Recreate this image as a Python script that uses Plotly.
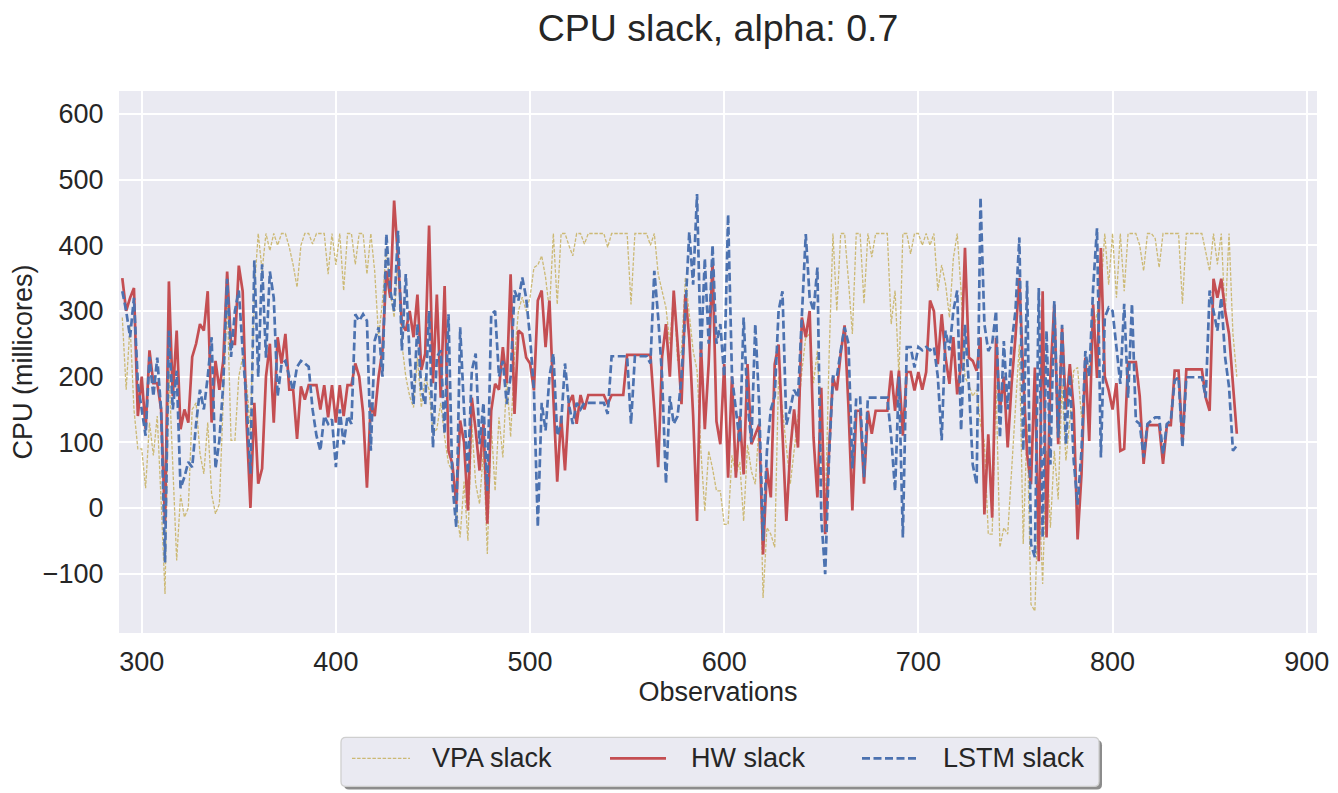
import plotly.graph_objects as go

# Observation index (x) – every second observation
obs = list(range(290, 866, 2))

vpa_slack = [
    290, 180, 280, 150, 90, 90, 30, 130, 80, 140,
    10, -131, 210, 77, -80, 20, -14, 0, 150, 160,
    83, 52, 130, 21, -9, 6, 168, 321, 103, 103,
    200, 230, 190, 118, 331, 418, 361, 418, 392, 418,
    400, 418, 418, 397, 370, 336, 400, 418, 418, 402,
    418, 418, 418, 356, 418, 370, 418, 331, 418, 418,
    371, 418, 418, 356, 418, 360, 260, 315, 397, 331,
    290, 381, 250, 200, 170, 153, 229, 153, 200, 180,
    113, 120, 160, 108, 67, 57, 0, -45, 40, -50,
    128, 37, 6, 90, -70, 128, 26, 138, 77, 200,
    108, 230, 300, 321, 300, 321, 366, 370, 384, 351,
    300, 418, 310, 418, 418, 400, 384, 418, 418, 402,
    418, 418, 418, 418, 418, 397, 418, 418, 418, 418,
    418, 310, 418, 418, 418, 418, 400, 418, 356, 330,
    305, 250, 330, 224, 239, 351, 290, 239, 210, 87,
    -5, 87, 60, 26, 26, -25, -25, 80, 50, 70,
    -20, 96, 56, 36, 130, -137, -30, -40, -60, 200,
    150, 87, 36, 87, 138, 209, 260, 265, 190, 240,
    90, -15, 229, 418, 300, 418, 418, 346, 265, 418,
    418, 311, 418, 382, 418, 418, 418, 418, 280, 331,
    199, 418, 418, 387, 418, 418, 400, 418, 400, 418,
    331, 370, 341, 290, 380, 418, 330, 199, 188, 170,
    180, 127, 100, -40, -40, 188, -60, -30, -40, 56,
    153, 249, -55, 127, -147, -157, 36, -116, 87, -30,
    87, 13, 188, 72, 133, 209, 214, 138, 188, 214,
    264, 300, 330, 418, 340, 418, 320, 418, 330, 418,
    418, 418, 400, 361, 418, 418, 410, 366, 418, 418,
    418, 418, 418, 311, 418, 418, 418, 418, 418, 390,
    361, 418, 371, 418, 290, 418, 265, 200,
]

hw_slack = [
    350, 300, 320, 335, 140, 200, 120, 240, 190, 190,
    150, -25, 345, 170, 270, 120, 150, 130, 230, 250,
    280, 270, 330, 130, 224, 180, 224, 360, 250, 250,
    369, 330, 130, 0, 160, 37, 60, 200, 250, 130,
    260, 220, 265, 180, 180, 105, 185, 165, 187, 187,
    187, 150, 187, 138, 187, 130, 187, 140, 187, 187,
    220, 200, 145, 31, 160, 140, 200, 240, 361, 320,
    468, 380, 280, 270, 300, 260, 325, 210, 235, 430,
    190, 325, 168, 338, 87, 67, 6, 133, 100, -4,
    168, 118, 57, 128, -24, 148, 189, 180, 245, 190,
    356, 143, 270, 265, 229, 220, 179, 316, 331, 245,
    316, 168, 40, 140, 57, 160, 172, 128, 172, 150,
    172, 172, 172, 172, 172, 158, 172, 172, 172, 172,
    233, 233, 233, 233, 233, 233, 233, 150, 62, 230,
    280, 200, 331, 250, 158, 325, 259, 140, -20, 250,
    120, 220, 376, 132, 97, 219, 46, 200, 46, 140,
    51, 219, 97, 112, 127, -71, 61, 16, 219, 249,
    120, -20, 87, 150, 92, 290, 260, 300, 107, 16,
    183, -40, 87, 199, 179, 235, 278, 153, -4, 148,
    148, 37, 148, 113, 148, 148, 148, 148, 209, 148,
    209, 110, 207, 207, 179, 207, 180, 207, 316, 300,
    219, 295, 229, 189, 260, 173, 219, 396, 229, 224,
    209, 260, -10, 112, -15, 259, 150, 200, 92, 188,
    260, 350, 200, 82, 36, 214, -81, 330, -45, 200,
    310, 97, 274, 150, 219, 150, -48, 51, 229, 102,
    310, 198, 396, 200, 179, 150, 190, 87, 90, 222,
    222, 222, 170, 67, 126, 126, 126, 126, 67, 126,
    126, 209, 209, 97, 211, 211, 211, 211, 211, 168,
    148, 349, 320, 349, 300, 265, 189, 113,
]

lstm_slack = [
    330, 300, 260, 320, 190, 150, 110, 230, 170, 229,
    148, -83, 270, 150, 209, 30, 47, 70, 62, 128,
    180, 150, 200, 260, 60, 103, 189, 349, 230, 300,
    331, 240, 160, 52, 377, 200, 371, 229, 360, 320,
    170, 219, 224, 200, 179, 215, 224, 220, 215, 150,
    110, 87, 140, 128, 135, 62, 150, 97, 140, 128,
    295, 285, 295, 285, 87, 255, 275, 200, 417, 331,
    300, 422, 240, 356, 230, 158, 280, 180, 158, 300,
    92, 230, 240, 113, 295, 37, -29, 275, 150, 52,
    209, 235, 97, 160, 26, 295, 300, 200, 224, 158,
    200, 331, 316, 351, 320, 260, 179, -29, 160, 118,
    200, 235, 110, 128, 220, 158, 128, 160, 150, 160,
    160, 160, 160, 160, 160, 143, 231, 231, 231, 231,
    231, 128, 231, 231, 231, 231, 220, 361, 290, 200,
    37, 170, 128, 140, 200, 300, 420, 340, 478, 230,
    380, 250, 400, 250, 280, 200, 447, 200, 150, 100,
    290, 160, 100, 280, 158, -50, 87, 150, 170, 300,
    330, 127, 150, 180, 168, 300, 417, 320, 300, 366,
    -15, -101, 77, 200, 199, 240, 275, 250, 60, 168,
    168, 47, 168, 168, 168, 168, 168, 168, 108, 26,
    200, -45, 245, 245, 214, 245, 240, 245, 240, 245,
    200, 103, 270, 240, 300, 331, 118, 279, 188, 66,
    36, 473, 280, 239, 250, 300, 107, 254, 150, 250,
    300, 412, 87, 346, -55, -75, 335, -45, 270, 66,
    315, 107, 279, 97, 203, 72, 5, 87, 239, 200,
    335, 426, 77, 290, 305, 300, 245, 189, 311, 168,
    311, 133, 128, 77, 128, 133, 138, 138, 82, 128,
    133, 194, 199, 92, 199, 199, 199, 199, 199, 168,
    331, 300, 270, 320, 229, 184, 87, 95,
]

series_names = ["VPA slack", "HW slack", "LSTM slack"]
x_ticks = [300, 400, 500, 600, 700, 800, 900]
y_ticks = [-100, 0, 100, 200, 300, 400, 500, 600]

n = min(len(obs), len(vpa_slack), len(hw_slack), len(lstm_slack))

FONT = "Liberation Sans, Arial, sans-serif"
TXT = "#262626"
FS = 27

styles = [
    dict(color="#ccb974", width=1.3, dash="3.5px,1.6px"),
    dict(color="#c44e52", width=2.7, dash="solid"),
    dict(color="#4c72b0", width=2.7, dash="8px,3.5px"),
]

fig = go.Figure()
for name, ys, st in zip(series_names, [vpa_slack, hw_slack, lstm_slack], styles):
    fig.add_trace(go.Scatter(
        x=obs[:n], y=ys[:n], mode="lines", name=name,
        line=st, showlegend=False,
    ))

# page has an 8px body margin; figure size compensates for it
OFF = 8
W, H = 1330, 785
ml, mr, mt, mb = 111, 21, 83, 160.3
pw, ph = W - ml - mr, H - mt - mb


def px_x(p):  # page pixel -> paper x
    return (p - OFF - ml) / pw


def px_y(p):  # page pixel -> paper y
    return (H - mb - (p - OFF)) / ph


def rounded_rect(x0, y0, x1, y1, r):
    X0, X1 = px_x(x0), px_x(x1)
    Y0, Y1 = px_y(y0), px_y(y1)
    rx, ry = r / pw, r / ph
    return (f"M{X0 + rx},{Y0} L{X1 - rx},{Y0} Q{X1},{Y0} {X1},{Y0 - ry} "
            f"L{X1},{Y1 + ry} Q{X1},{Y1} {X1 - rx},{Y1} "
            f"L{X0 + rx},{Y1} Q{X0},{Y1} {X0},{Y1 + ry} "
            f"L{X0},{Y0 - ry} Q{X0},{Y0} {X0 + rx},{Y0} Z")


# custom legend (box with shadow, line samples, labels)
box = (341, 737, 1099, 786)
fig.add_shape(type="path", xref="paper", yref="paper",
              path=rounded_rect(box[0] + 3, box[1] + 3, box[2] + 3, box[3] + 3, 5),
              fillcolor="#8c8c8c", line=dict(width=0))
fig.add_shape(type="path", xref="paper", yref="paper",
              path=rounded_rect(*box, 5),
              fillcolor="#eaeaf2", line=dict(color="#cfcfcf", width=1.3))

leg_y = 758
sample_x = [(352, 410), (610, 666), (862, 917)]
text_x = [430, 689, 941]
for name, st, (sx0, sx1), tx in zip(series_names, styles, sample_x, text_x):
    fig.add_shape(type="line", xref="paper", yref="paper",
                  x0=px_x(sx0), x1=px_x(sx1), y0=px_y(leg_y), y1=px_y(leg_y),
                  line=dict(color=st["color"], width=st["width"], dash=st["dash"]))
    fig.add_annotation(x=px_x(tx), y=px_y(leg_y), xref="paper", yref="paper",
                       text=name, showarrow=False, xanchor="left", yanchor="middle",
                       font=dict(size=FS, color=TXT, family=FONT))

fig.update_layout(
    width=W, height=H,
    margin=dict(l=ml, r=mr, t=mt, b=mb),
    paper_bgcolor="white",
    plot_bgcolor="#eaeaf2",
    font=dict(family=FONT, color=TXT, size=FS),
    title=dict(
        text="CPU slack, alpha: 0.7", x=0.5, xref="paper", xanchor="center",
        y=1 - (28 - OFF) / H, yref="container", yanchor="middle",
        font=dict(size=37.5, color=TXT, family=FONT),
    ),
    xaxis=dict(
        range=[288.3, 905.3], tickvals=x_ticks, showgrid=True,
        gridcolor="white", gridwidth=1.5, zeroline=False, showline=False,
        ticks="outside", ticklen=5, tickcolor="rgba(0,0,0,0)",
        tickfont=dict(size=FS, color=TXT),
        title=dict(text="Observations", font=dict(size=FS, color=TXT), standoff=4),
        automargin=False,
    ),
    yaxis=dict(
        range=[-190.5, 635], tickvals=y_ticks, showgrid=True,
        gridcolor="white", gridwidth=1.5, zeroline=False, showline=False,
        ticks="outside", ticklen=9, tickcolor="rgba(0,0,0,0)",
        tickfont=dict(size=FS, color=TXT),
        title=dict(text="CPU (millicores)", font=dict(size=FS, color=TXT), standoff=7),
        automargin=False,
    ),
    showlegend=False,
    hovermode=False,
)

fig.write_html("out.html")
